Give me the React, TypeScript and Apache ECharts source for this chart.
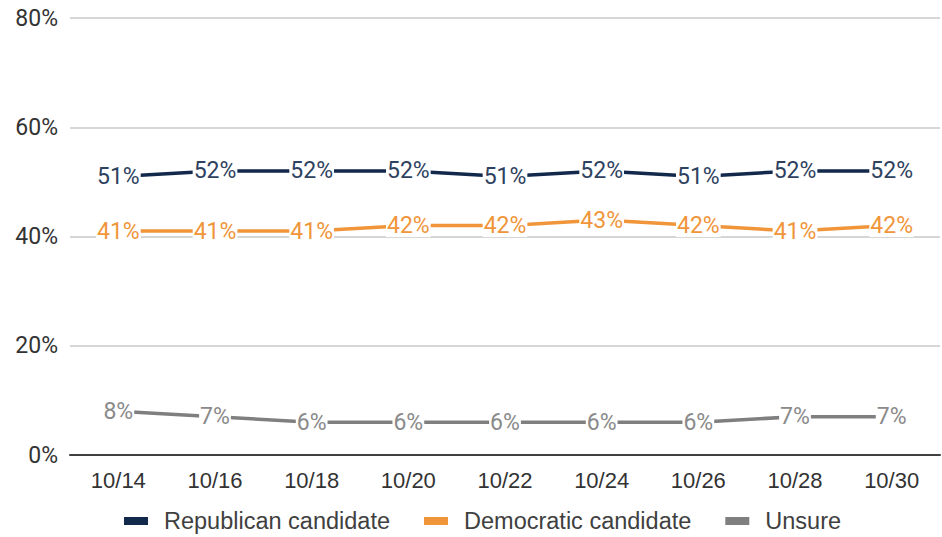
import React, { useEffect, useRef } from "react";
import * as echarts from "echarts";

const categories = ["10/14", "10/16", "10/18", "10/20", "10/22", "10/24", "10/26", "10/28", "10/30"];
const republican = [51, 52, 52, 52, 51, 52, 51, 52, 52];
const democratic = [41, 41, 41, 42, 42, 43, 42, 41, 42];
const unsure = [8, 7, 6, 6, 6, 6, 6, 7, 7];
const seriesNames = ["Republican candidate", "Democratic candidate", "Unsure"];
const lineColors = ["#13294b", "#f0953a", "#7f7f7f"];
const labelColors = ["#2e4260", "#f0953a", "#8a8a8a"];

export default function App() {
  const ref = useRef<HTMLDivElement>(null);
  useEffect(() => {
    if (!ref.current) return;
    const chart = echarts.init(ref.current, undefined, { renderer: "svg" });
    const datasets = [republican, democratic, unsure];
    chart.setOption({
      animation: false,
      grid: { left: 70, right: 2, top: 18, bottom: 82, containLabel: false },
      legend: {
        bottom: 3,
        left: 124,
        padding: 0,
        itemWidth: 24,
        itemHeight: 8,
        itemGap: 34,
        icon: "rect",
        textStyle: {
          fontFamily: "Liberation Sans, Arial",
          fontSize: 23.5,
          lineHeight: 26,
          color: "#404040",
          padding: [0, 0, 0, 11],
        },
        data: seriesNames,
      },
      xAxis: {
        type: "category",
        data: categories,
        boundaryGap: true,
        axisLine: { lineStyle: { color: "#404040", width: 2 } },
        axisTick: { show: false },
        axisLabel: { fontFamily: "Liberation Sans, Arial", fontSize: 22, color: "#333", margin: 14 },
      },
      yAxis: {
        type: "value",
        min: 0,
        max: 80,
        interval: 20,
        axisLine: { show: false },
        axisTick: { show: false },
        splitLine: { lineStyle: { color: "#c8c8c8", width: 1.5 } },
        axisLabel: {
          formatter: "{value}%",
          fontFamily: "Roboto, Liberation Sans",
          fontSize: 23,
          color: "#333",
          margin: 12,
        },
      },
      series: datasets.map((d, i) => ({
        name: seriesNames[i],
        type: "line",
        data: d,
        symbol: "circle",
        symbolSize: 1,
        z: 2,
        lineStyle: { color: lineColors[i], width: 3.5 },
        itemStyle: { color: lineColors[i] },
        label: {
          show: true,
          position: "inside",
          formatter: "{c}%",
          fontFamily: "Roboto, Liberation Sans",
          fontSize: 23,
          color: labelColors[i],
          backgroundColor: "#ffffff",
          padding: [0, 1],
        },
      })),
    });
    return () => chart.dispose();
  }, []);
  return (
    <div
      ref={ref}
      style={{ position: "absolute", left: 0, top: 0, width: 942, height: 537 }}
    />
  );
}
